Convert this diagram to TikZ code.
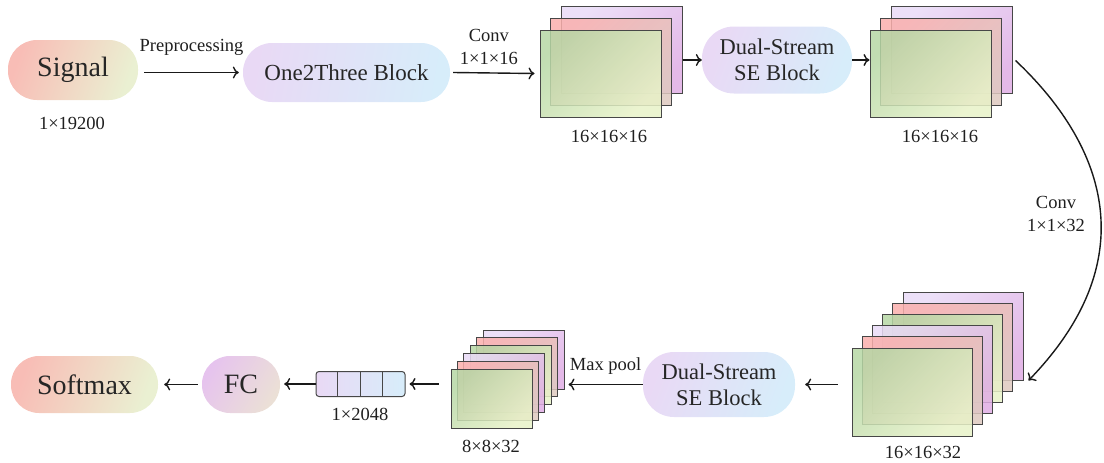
\documentclass[tikz,border=0pt]{standalone}
\usepackage{fontspec}
\setmainfont{Liberation Serif}
\usetikzlibrary{arrows.meta}

\definecolor{pinkA}{HTML}{F8BDB6}
\definecolor{yelA}{HTML}{EAF0D2}
\definecolor{lavA}{HTML}{E9D9F5}
\definecolor{blueA}{HTML}{D7EDFA}
\definecolor{fcA}{HTML}{E6C3EE}
\definecolor{fcB}{HTML}{EBE0D6}
\definecolor{gA}{HTML}{B6D7A5}
\definecolor{gB}{HTML}{E8F2C8}
\definecolor{rA}{HTML}{FAAFAD}
\definecolor{rB}{HTML}{DEC9C0}
\definecolor{pA}{HTML}{E9DAF7}
\definecolor{pB}{HTML}{DFADE4}

\begin{document}
\begin{tikzpicture}[x=1pt,y=-1pt,
	lbl/.style={font=\fontsize{18.5}{23}\selectfont, text=black!88, inner sep=0pt},
	pill/.style={rounded corners=#1, inner sep=0pt, text=black!85},
	big/.style={font=\fontsize{28}{32}\selectfont},
	mid/.style={font=\fontsize{22.5}{26}\selectfont, align=center},
	arr/.style={-{To[length=6pt,width=12pt]}, line width=1.4pt, black!90},
	fmap/.style 2 args={draw=black!72, line width=1pt, left color=#1, right color=#2, shading angle=45, fill opacity=0.85, inner sep=0pt}]
			\useasboundingbox (0,0) rectangle (1104,463);
			% first row
			\node[pill=29pt, big, left color=pinkA, right color=yelA, shading angle=70, minimum width=130pt, minimum height=60pt] (sig) at (73,70) {Signal};
			\node[lbl] (t0) at (72,123) {1×19200};
			\node[pill=29pt, font=\fontsize{23}{27}\selectfont, left color=lavA, right color=blueA, shading angle=80, minimum width=207pt, minimum height=59pt] (one) at (346.5,72.5) {One2Three Block};
			\foreach \k/\ca/\cb in {2/pA/pB,1/rA/rB,0/gA/gB}
				\node[fmap={\ca}{\cb}, minimum width=121pt, minimum height=87pt] (s1-\k) at (600.5+10.5*\k,73.5-12*\k) {};
			\node[lbl] (t1) at (609,136) {16×16×16};
			\node[pill=32pt, mid, left color=lavA, right color=blueA, shading angle=70, minimum width=150pt, minimum height=67pt] (dse1) at (777,60) {Dual-Stream\\SE Block};
			\foreach \k/\ca/\cb in {2/pA/pB,1/rA/rB,0/gA/gB}
				\node[fmap={\ca}{\cb}, minimum width=121pt, minimum height=87pt] (s2-\k) at (930.5+10.5*\k,73.5-12*\k) {};
			\node[lbl] (t2) at (940,136) {16×16×16};
			% second row
			\foreach \k/\ca/\cb in {5/pA/pB,4/rA/rB,3/gA/gB,2/pA/pB,1/rA/rB,0/gA/gB}
				\node[fmap={\ca}{\cb}, minimum width=120pt, minimum height=88pt] (s3-\k) at (912+10.2*\k,392-11.2*\k) {};
			\node[lbl] (t3) at (923,452) {16×16×32};
			\node[pill=31pt, mid, left color=lavA, right color=blueA, shading angle=70, minimum width=152pt, minimum height=65pt] (dse2) at (719,384.5) {Dual-Stream\\SE Block};
			\foreach \k/\ca/\cb in {5/pA/pB,4/rA/rB,3/gA/gB,2/pA/pB,1/rA/rB,0/gA/gB}
				\node[fmap={\ca}{\cb}, minimum width=81pt, minimum height=59pt] (s4-\k) at (491.5+6.4*\k,398.5-7.8*\k) {};
			\node[lbl] (t4) at (491,446) {8×8×32};
			\node[draw=black!72, line width=1pt, rounded corners=3pt, left color=lavA, right color=blueA, minimum width=89pt, minimum height=25pt, inner sep=0pt] (vec) at (360.5,384) {};
			\foreach \i in {1,2,3}
				\draw[black!72, line width=1pt] ([xshift=\i*22.25pt]vec.north west) -- ([xshift=\i*22.25pt]vec.south west);
			\node[lbl] (t5) at (360,414) {1×2048};
			\node[pill=28pt, big, left color=fcA, right color=fcB, shading angle=60, minimum width=78pt, minimum height=57pt] (fc) at (241,384.5) {FC};
			\node[pill=28pt, big, left color=pinkA, right color=yelA, shading angle=70, minimum width=147pt, minimum height=57pt] (soft) at (84.5,384.5) {Softmax};
			% connectors
			\draw[arr] ([xshift=6pt]sig.east |- one.west) -- ([xshift=-4pt]one.west) node[lbl, midway, yshift=25pt] (pre) {Preprocessing};
			\draw[arr] ([xshift=3pt]one.east) -- ([xshift=-5pt]s1-0.west) node[lbl, align=center, midway, xshift=-5pt, yshift=26pt] (cv1) {Conv\\1×1×16};
			\draw[arr] (s1-2.east |- dse1.west) -- (dse1.west);
			\draw[arr] (dse1.east) -- (s2-0.west |- dse1.east);
			\draw[arr] ([shift={(3pt,-11pt)}]s2-2.east) .. controls (1100,140) and (1150,255) .. ([xshift=5pt]s3-5.south east);
			\node[lbl, align=center] (cv2) at (1056,214) {Conv\\1×1×32};
			\draw[arr] ([xshift=-14pt]s3-0.west |- dse2.east) -- ([xshift=10pt]dse2.east);
			\draw[arr] (dse2.west) -- ([xshift=4pt]s4-5.east |- dse2.west) node[lbl, midway, yshift=18pt] (mp) {Max pool};
			\draw[arr] ([xshift=-12pt]s4-0.west |- vec.east) -- ([xshift=4pt]vec.east);
			\draw[arr] (vec.west) -- ([xshift=4pt]fc.east |- vec.west);
			\draw[arr] ([xshift=-4pt]fc.west) -- ([xshift=6pt]soft.east);
		\end{tikzpicture}
\end{document}
